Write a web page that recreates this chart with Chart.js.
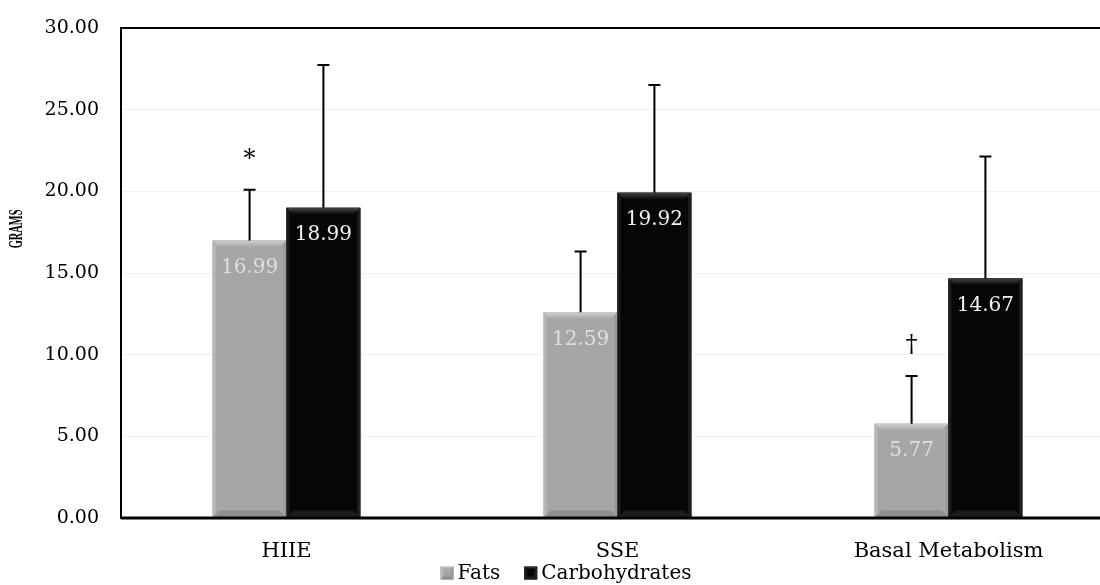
<!DOCTYPE html>
<html>
<head>
<meta charset="utf-8">
<script src="https://cdn.jsdelivr.net/npm/chart.js@4"></script>
<style>
  html, body { margin: 0; padding: 0; background: #fff; overflow: hidden; }
  #wrap { width: 1116px; height: 585px; position: relative; }
</style>
</head>
<body>
<div id="wrap"><canvas id="chart"></canvas></div>
<script>
const categories = ['HIIE', 'SSE', 'Basal Metabolism']
const fats = [16.99, 12.59, 5.77]
const carbs = [18.99, 19.92, 14.67]
const fatsSd = [3.10, 3.72, 2.93]
const carbsSd = [8.75, 6.59, 7.46]
const fatsMarks = ['*', '', '†']
const carbsMarks = ['', '', '']
const yTicks = [0, 5, 10, 15, 20, 25, 30]
const yTitle = 'GRAMS'

const FONT = "'DejaVu Serif', serif"

function bevelBox(ctx, l, t, r, b, bev, ds) {
  ctx.fillStyle = ds.backgroundColor
  ctx.fillRect(l, t, r - l, b - t)
  const g = ctx.createLinearGradient(0, t, 0, t + bev)
  g.addColorStop(0, ds.bevelTop)
  g.addColorStop(1, ds.backgroundColor)
  ctx.fillStyle = g
  ctx.beginPath()
  ctx.moveTo(l, t); ctx.lineTo(r, t); ctx.lineTo(r - bev, t + bev); ctx.lineTo(l + bev, t + bev)
  ctx.closePath(); ctx.fill()
  const s = Math.min(3, bev)
  ctx.fillStyle = ds.bevelLeft
  ctx.beginPath()
  ctx.moveTo(l, t); ctx.lineTo(l + s, t + s); ctx.lineTo(l + s, b - s); ctx.lineTo(l, b)
  ctx.closePath(); ctx.fill()
  ctx.fillStyle = ds.bevelRight
  ctx.beginPath()
  ctx.moveTo(r, t); ctx.lineTo(r - s, t + s); ctx.lineTo(r - s, b - s); ctx.lineTo(r, b)
  ctx.closePath(); ctx.fill()
  ctx.fillStyle = ds.bevelBottom
  ctx.beginPath()
  ctx.moveTo(l, b); ctx.lineTo(l + bev, b - bev); ctx.lineTo(r - bev, b - bev); ctx.lineTo(r, b)
  ctx.closePath(); ctx.fill()
}

// bevel, error bars, value labels, significance marks, frame, title, legend
const barExtras = {
  id: 'barExtras',
  afterDatasetsDraw(chart) {
    const ctx = chart.ctx
    const yScale = chart.scales.y
    chart.data.datasets.forEach((ds, di) => {
      const meta = chart.getDatasetMeta(di)
      meta.data.forEach((bar, i) => {
        const l = bar.x - bar.width / 2
        const r = bar.x + bar.width / 2
        const t = bar.y
        ctx.save()
        bevelBox(ctx, l, t, r, bar.base, 7, ds)

        // error bar (upper only)
        const errTop = yScale.getPixelForValue(ds.data[i] + ds.sd[i])
        ctx.strokeStyle = '#000'
        ctx.lineWidth = 2
        ctx.beginPath()
        ctx.moveTo(bar.x, t); ctx.lineTo(bar.x, errTop)
        ctx.moveTo(bar.x - 6, errTop); ctx.lineTo(bar.x + 6, errTop)
        ctx.stroke()

        // value label inside top of bar
        ctx.fillStyle = ds.labelColor
        ctx.font = `20px ${FONT}`
        ctx.textAlign = 'center'
        ctx.textBaseline = 'middle'
        ctx.fillText(ds.data[i].toFixed(2), bar.x, t + 27)

        // significance mark
        if (ds.marks[i]) {
          ctx.fillStyle = '#000'
          ctx.font = `24px ${FONT}`
          ctx.textBaseline = 'alphabetic'
          ctx.fillText(ds.marks[i], bar.x, errTop - 24)
        }
        ctx.restore()
      })
    })

    // plot frame
    const a = chart.chartArea
    ctx.save()
    ctx.strokeStyle = '#000'
    ctx.lineWidth = 2
    ctx.strokeRect(a.left, a.top, a.right - a.left, a.bottom - a.top)
    ctx.lineWidth = 3
    ctx.beginPath()
    ctx.moveTo(a.left, a.bottom); ctx.lineTo(a.right, a.bottom)
    ctx.stroke()
    ctx.restore()

    // y-axis title, a little above the plot middle as in the source figure
    ctx.save()
    ctx.translate(17, a.top + (a.bottom - a.top) * 0.41)
    ctx.rotate(-Math.PI / 2)
    ctx.scale(0.8, 1.4)
    ctx.fillStyle = '#000'
    ctx.font = "bold 13px 'Liberation Serif', serif"
    ctx.textAlign = 'center'
    ctx.textBaseline = 'middle'
    ctx.fillText(yTitle, 0, 0)
    ctx.restore()

    // legend below the category labels
    ctx.save()
    ctx.font = `20px ${FONT}`
    ctx.textBaseline = 'middle'
    ctx.textAlign = 'left'
    const box = 13, gapText = 4, gapItem = 24
    const items = chart.data.datasets
    const total = items.reduce((s, ds) => s + box + gapText + ctx.measureText(ds.label).width, 0) + gapItem * (items.length - 1)
    let x = 566 - total / 2
    const ly = 573
    items.forEach(ds => {
      bevelBox(ctx, x, ly - box / 2, x + box, ly + box / 2, 3, ds)
      x += box + gapText
      ctx.fillStyle = '#000'
      ctx.fillText(ds.label, x, ly + 1)
      x += ctx.measureText(ds.label).width + gapItem
    })
    ctx.restore()
  }
}

new Chart(document.getElementById('chart'), {
  type: 'bar',
  data: {
    labels: categories,
    datasets: [
      {
        label: 'Fats',
        data: fats,
        sd: fatsSd,
        marks: fatsMarks,
        backgroundColor: '#a6a6a6',
        bevelTop: '#cfcfcf',
        bevelLeft: '#b6b6b6',
        bevelRight: '#999999',
        bevelBottom: '#8e8e8e',
        labelColor: '#dedede'
      },
      {
        label: 'Carbohydrates',
        data: carbs,
        sd: carbsSd,
        marks: carbsMarks,
        backgroundColor: '#060606',
        bevelTop: '#444444',
        bevelLeft: '#1a1a1a',
        bevelRight: '#202020',
        bevelBottom: '#1c1c1c',
        labelColor: '#f2f2f2'
      }
    ]
  },
  options: {
    responsive: true,
    maintainAspectRatio: false,
    animation: false,
    layout: {
      padding: { top: 28, right: 2, bottom: 0, left: 0 }
    },
    datasets: {
      bar: {
        categoryPercentage: 0.446,
        barPercentage: 1.0
      }
    },
    scales: {
      x: {
        grid: { display: false, drawTicks: false },
        border: { display: false },
        afterFit: scale => { scale.height = 67 },
        ticks: {
          color: '#000',
          padding: 21,
          font: { family: FONT, size: 21 }
        }
      },
      y: {
        min: 0,
        max: 30,
        afterBuildTicks: scale => { scale.ticks = yTicks.map(v => ({ value: v })) },
        afterFit: scale => {
          scale.width = 121
          scale.paddingTop = 0
          scale.paddingBottom = 0
        },
        grid: { color: '#f1f1f1', drawTicks: false },
        border: { display: false },
        ticks: {
          color: '#000',
          padding: 22,
          font: { family: FONT, size: 19 },
          callback: v => Number(v).toFixed(2)
        }
      }
    },
    plugins: {
      legend: { display: false },
      tooltip: { enabled: false }
    }
  },
  plugins: [barExtras]
})
</script>
</body>
</html>
